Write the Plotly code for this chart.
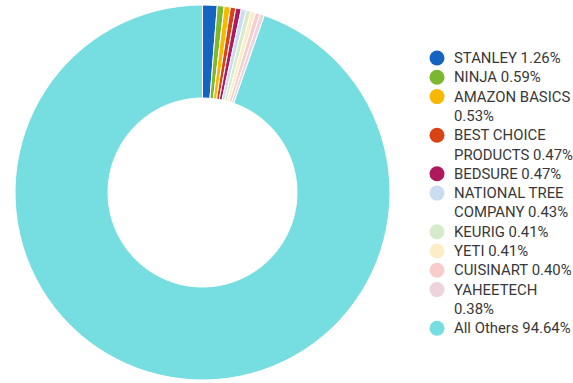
import plotly.graph_objects as go

brands = ["STANLEY", "NINJA", "AMAZON BASICS", "BEST CHOICE PRODUCTS", "BEDSURE",
          "NATIONAL TREE COMPANY", "KEURIG", "YETI", "CUISINART", "YAHEETECH", "All Others"]
legend_lines = [["STANLEY 1.26%"], ["NINJA 0.59%"], ["AMAZON BASICS", "0.53%"],
                ["BEST CHOICE", "PRODUCTS 0.47%"], ["BEDSURE 0.47%"],
                ["NATIONAL TREE", "COMPANY 0.43%"], ["KEURIG 0.41%"], ["YETI 0.41%"],
                ["CUISINART 0.40%"], ["YAHEETECH", "0.38%"], ["All Others 94.64%"]]
shares = [1.26, 0.59, 0.53, 0.47, 0.47, 0.43, 0.41, 0.41, 0.40, 0.38, 94.64]
colors = ["#1565C0", "#7CB82F", "#F6B800", "#D84315", "#B0185E", "#C9DCF0", "#D6EBCB",
          "#FDEDC6", "#F6CDCB", "#EED2DC", "#76DEE0"]

W, H = 573, 383
FONT = "Roboto"
FSIZE = 14.9
TXT = "#383838"

fig = go.Figure()
fig.add_trace(go.Pie(
    labels=brands, values=shares, sort=False, direction="clockwise", rotation=0,
    hole=0.504, marker=dict(colors=colors, line=dict(color="white", width=1)),
    textinfo="none", showlegend=False,
    domain=dict(x=[15 / W, 390 / W], y=[3 / H, 378 / H]),
))

# custom legend (round swatches), laid out in pixel space on hidden axes
first_line_y = 58.0
line_step = 19.3
sym_x, text_x = 437, 453
line_idx = 0
sx, sy = [], []
annotations = []
for lines, c in zip(legend_lines, colors):
    y0 = first_line_y + line_step * line_idx
    sx.append(sym_x)
    sy.append(y0)
    for k, ln in enumerate(lines):
        annotations.append(dict(x=text_x, y=y0 + line_step * k, xref="x", yref="y",
                                xanchor="left", yanchor="middle", text=ln, showarrow=False,
                                align="left", font=dict(family=FONT, size=FSIZE, color=TXT),
                                borderpad=0))
    line_idx += len(lines)

fig.add_trace(go.Scatter(x=sx, y=sy, mode="markers", showlegend=False, hoverinfo="skip",
                         marker=dict(color=colors, size=15, symbol="circle", line=dict(width=0))))

fig.update_layout(
    width=W, height=H, margin=dict(l=0, r=0, t=0, b=0),
    paper_bgcolor="white", plot_bgcolor="rgba(0,0,0,0)",
    xaxis=dict(visible=False, range=[0, W], domain=[0, 1], fixedrange=True),
    yaxis=dict(visible=False, range=[H, 0], domain=[0, 1], fixedrange=True),
    font=dict(family=FONT, size=FSIZE, color=TXT),
    annotations=annotations,
    showlegend=False,
)
fig.write_html("out.html", config={"displayModeBar": False},
               post_script="document.body.style.margin='0';")
